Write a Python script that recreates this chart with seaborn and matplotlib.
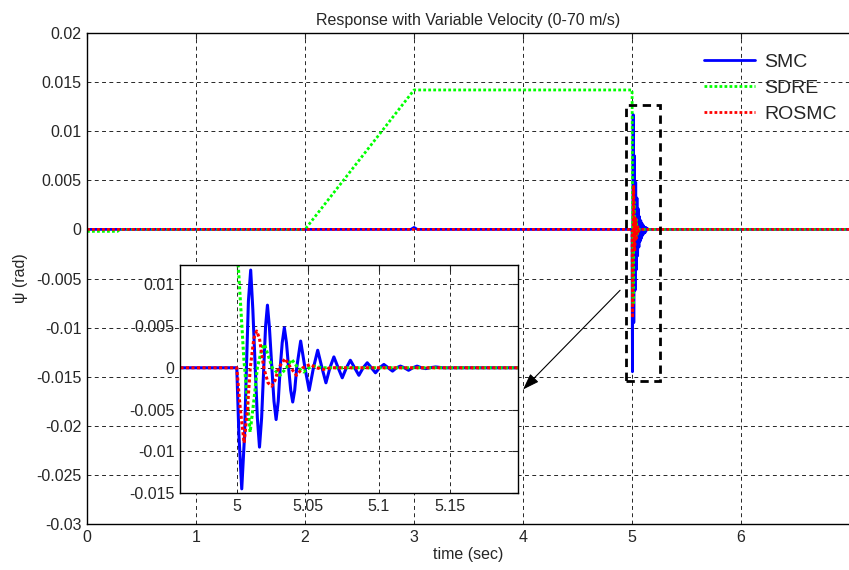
import matplotlib
matplotlib.use("Agg")
import matplotlib.pyplot as plt
from matplotlib.patches import Rectangle
import seaborn as sns

# --- data ---
smc_t = [0.0, 2.97, 3.0, 3.03, 5.0, 5.0015, 5.0035, 5.0055, 5.0068, 5.0082, 5.0098, 5.0113,
         5.013, 5.0145, 5.016, 5.0175, 5.019, 5.0203, 5.0216, 5.023, 5.0247, 5.0262, 5.0277,
         5.0292, 5.0306, 5.032, 5.0335, 5.035, 5.0365, 5.038, 5.0394, 5.0408, 5.0422, 5.045,
         5.048, 5.051, 5.054, 5.057, 5.06, 5.0628, 5.0656, 5.0684, 5.0714, 5.0743, 5.0772,
         5.08, 5.083, 5.086, 5.089, 5.0919, 5.0948, 5.0977, 5.1006, 5.1036, 5.1066, 5.1097,
         5.1125, 5.1153, 5.118, 5.121, 5.124, 5.127, 5.13, 5.133, 5.136, 5.14, 5.145, 7.0]
smc_psi = [0.0, 0.0, 0.0002, 0.0, 0.0, -0.008, -0.0145, -0.008, 0.0, 0.008, 0.0117, 0.007,
           0.0, -0.006, -0.0095, -0.006, 0.0, 0.005, 0.0075, 0.0048, 0.0, -0.004, -0.0062,
           -0.004, 0.0, 0.003, 0.0048, 0.003, 0.0, -0.0027, -0.0041, -0.0027, 0.0, 0.0032,
           0.0, -0.0027, 0.0, 0.0021, 0.0, -0.0018, 0.0, 0.0013, 0.0, -0.0012, 0.0,
           0.0009, 0.0, -0.0009, 0.0, 0.0006, 0.0, -0.0006, 0.0, 0.0004, 0.0, -0.0004,
           0.0, 0.0002, 0.0, -0.0003, 0.0, 0.0002, 0.0, -0.0001, 0.0, 0.0001, 0.0, 0.0]

sdre_t = [0.0, 0.28, 0.3, 2.0, 3.0, 5.0, 5.0012, 5.005, 5.0094, 5.012, 5.0145, 5.0175,
          5.0195, 5.0215, 5.025, 5.0305, 5.035, 5.0387, 5.043, 5.047, 5.051, 5.055, 5.06, 7.0]
sdre_psi = [-0.0002, -0.0002, 0.0, 0.0, 0.0142, 0.0142, 0.0118, 0.001, -0.0077, -0.004, 0.0,
            0.0022, 0.0028, 0.0018, 0.0, -0.0009, 0.0, 0.001, 0.0, -0.0005, 0.0, 0.0002, 0.0, 0.0]

rosmc_t = [0.0, 5.0, 5.0025, 5.0052, 5.0075, 5.0095, 5.012, 5.014, 5.016, 5.019, 5.022,
           5.0246, 5.027, 5.0295, 5.034, 5.038, 5.042, 5.0465, 5.0516, 5.056, 5.061, 5.066, 7.0]
rosmc_psi = [0.0, 0.0, -0.005, -0.009, -0.005, 0.0, 0.0035, 0.0044, 0.0035, 0.0, -0.0018,
             -0.0022, -0.0015, 0.0, 0.0011, 0.0, -0.0009, 0.0, 0.0004, 0.0, -0.0002, 0.0, 0.0]

yticks = [0.02, 0.015, 0.01, 0.005, 0.0, -0.005, -0.01, -0.015, -0.02, -0.025, -0.03]
ytick_labels = ["0.02", "0.015", "0.01", "0.005", "0", "-0.005", "-0.01", "-0.015",
                "-0.02", "-0.025", "-0.03"]
xticks = [0, 1, 2, 3, 4, 5, 6]

in_xticks = [5.0, 5.05, 5.1, 5.15]
in_xtick_labels = ["5", "5.05", "5.1", "5.15"]
in_yticks = [0.01, 0.005, 0.0, -0.005, -0.01, -0.015]
in_ytick_labels = ["0.01", "0.005", "0", "-0.005", "-0.01", "-0.015"]

sns.set_style("white")
plt.rcParams['font.family'] = ['Liberation Sans', 'DejaVu Sans']
plt.rcParams['xtick.direction'] = 'in'
plt.rcParams['ytick.direction'] = 'in'

FS = 11.5

series = [
    (smc_t, smc_psi, "SMC", "#0000ff", "-"),
    (sdre_t, sdre_psi, "SDRE", "#00ff00", (0, (1, 0.8))),
    (rosmc_t, rosmc_psi, "ROSMC", "#ff0000", (0, (1, 0.8))),
]

grid_kw = dict(color='k', linestyle=(0, (4, 3.5)), linewidth=0.7, alpha=0.85)

fig = plt.figure(figsize=(8.49, 5.70), dpi=100)
ax = fig.add_axes([0.1025, 0.0807, 0.8975, 0.8614])

for t, v, name, col, ls in series:
    sns.lineplot(x=t, y=v, ax=ax, color=col, linestyle=ls, linewidth=2,
                 label=name, estimator=None, sort=False)

ax.set_xlim(0, 6.99)
ax.set_ylim(-0.03, 0.02)
ax.set_xticks(xticks)
ax.set_xticklabels([str(x) for x in xticks])
ax.set_yticks(yticks)
ax.set_yticklabels(ytick_labels)
ax.tick_params(labelsize=FS, length=4, top=True, pad=4)
ax.grid(True, **grid_kw)
ax.spines['right'].set_visible(False)
for s in ['left', 'bottom', 'top']:
    ax.spines[s].set_linewidth(1.0)
    ax.spines[s].set_color('k')
ax.set_title("Response with Variable Velocity (0-70 m/s)", fontsize=FS, pad=6)
ax.set_xlabel("time (sec)", fontsize=FS, labelpad=2)
ax.set_ylabel("ψ (rad)", fontsize=FS, labelpad=6)

leg = ax.legend(loc='upper right', bbox_to_anchor=(1.007, 0.995), frameon=False,
                fontsize=14, handlelength=2.6, labelspacing=0.45, handletextpad=0.5)

# zoom box and arrow
ax.add_patch(Rectangle((4.94, -0.0154), 0.32, 0.0281, fill=False, edgecolor='k',
                       linestyle=(0, (3, 2)), linewidth=2, zorder=5))
ax.annotate("", xy=(4.0, -0.0163), xytext=(4.89, -0.0062),
            arrowprops=dict(arrowstyle='-|>,head_length=1.0,head_width=0.35',
                            color='k', lw=0.8, shrinkA=0, shrinkB=0))

# inset
ins = fig.add_axes([0.212, 0.135, 0.398, 0.40])
for t, v, name, col, ls in series:
    sns.lineplot(x=t, y=v, ax=ins, color=col, linestyle=ls, linewidth=2.2,
                 estimator=None, sort=False, legend=False)
ins.set_xlim(4.96, 5.198)
ins.set_ylim(-0.015, 0.0123)
ins.set_xticks(in_xticks)
ins.set_xticklabels(in_xtick_labels)
ins.set_yticks(in_yticks)
ins.set_yticklabels(in_ytick_labels)
ins.tick_params(labelsize=FS, length=4, top=True, right=True, pad=4)
ins.grid(True, **grid_kw)
ins.set_xlabel("")
ins.set_ylabel("")
for s in ins.spines.values():
    s.set_linewidth(1.0)
    s.set_color('k')

fig.savefig("out.png", dpi=100)
